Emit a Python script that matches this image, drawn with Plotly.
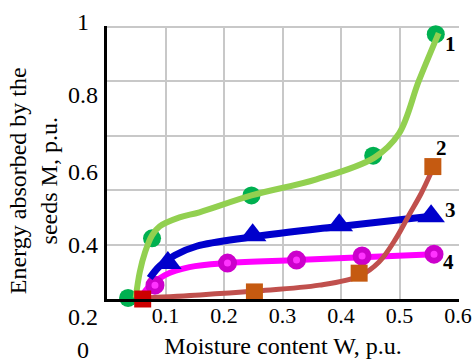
import plotly.graph_objects as go

# ---- data ----
# curve 1 (green)
w1_pts = [0.036, 0.077, 0.247, 0.455, 0.562]
m1_pts = [0.004, 0.223, 0.381, 0.527, 0.974]
w1_line = [0.049, 0.056, 0.065, 0.077, 0.090, 0.124, 0.158, 0.247, 0.358, 0.457, 0.499, 0.533, 0.567]
m1_line = [0.004, 0.099, 0.172, 0.234, 0.267, 0.300, 0.319, 0.381, 0.440, 0.520, 0.608, 0.802, 0.978]

# curve 2 (brown / orange)
w2_pts = [0.061, 0.252, 0.431, 0.557]
m2_pts = [0.000, 0.026, 0.095, 0.487]
w2_line = [0.065, 0.159, 0.252, 0.363, 0.431, 0.465, 0.494, 0.516, 0.537, 0.554]
m2_line = [0.004, 0.015, 0.029, 0.051, 0.084, 0.136, 0.223, 0.308, 0.388, 0.465]

# curve 3 (blue)
w3_pts = [0.104, 0.249, 0.397, 0.554]
m3_pts = [0.132, 0.234, 0.271, 0.304]
w3_line = [0.073, 0.090, 0.116, 0.153, 0.244, 0.397, 0.554]
m3_line = [0.077, 0.121, 0.161, 0.194, 0.227, 0.267, 0.304]

# curve 4 (magenta)
w4_pts = [0.082, 0.206, 0.324, 0.436, 0.559]
m4_pts = [0.051, 0.132, 0.143, 0.158, 0.165]
w4_line = [0.058, 0.073, 0.099, 0.141, 0.206, 0.324, 0.436, 0.559]
m4_line = [0.007, 0.048, 0.088, 0.117, 0.132, 0.143, 0.154, 0.165]

x_ticks = [0.1, 0.2, 0.3, 0.4, 0.5, 0.6]
x_tick_text = ["0.1", "0.2", "0.3", "0.4", "0.5", "0.6"]
y_grid = [0.2, 0.4, 0.6, 0.8, 1.0]
y_tick_text = ["1", "0.8", "0.6", "0.4", "0.2", "0"]
y_tick_pos = [1.015, 0.747, 0.465, 0.198, -0.066, -0.185]

curve_labels = ["1", "2", "3", "4"]
curve_label_w = [0.588, 0.571, 0.588, 0.584]
curve_label_m = [0.938, 0.556, 0.326, 0.136]

FONT = "Liberation Serif"

fig = go.Figure()

# curve 1: markers under the line
fig.add_trace(go.Scatter(x=w1_pts, y=m1_pts, mode="markers", cliponaxis=False,
                         marker=dict(symbol="circle", size=18, color="#00b050")))
fig.add_trace(go.Scatter(x=w1_line, y=m1_line, mode="lines",
                         line=dict(color="#92d050", width=6, shape="spline")))

# curve 4
fig.add_trace(go.Scatter(x=w4_line, y=m4_line, mode="lines",
                         line=dict(color="#ff00ff", width=6, shape="spline")))
fig.add_trace(go.Scatter(x=w4_pts, y=m4_pts, mode="markers", cliponaxis=False,
                         marker=dict(symbol="circle", size=13, color="#ff33ff",
                                     line=dict(color="#cc00cc", width=6))))

# curve 3
fig.add_trace(go.Scatter(x=w3_line, y=m3_line, mode="lines",
                         line=dict(color="#0000cc", width=7, shape="spline")))
fig.add_trace(go.Scatter(x=w3_pts, y=m3_pts, mode="markers", cliponaxis=False,
                         marker=dict(symbol="triangle-up", size=24, color="#0000cc")))

# curve 2
fig.add_trace(go.Scatter(x=w2_line, y=m2_line, mode="lines",
                         line=dict(color="#c0504d", width=5, shape="spline")))
fig.add_trace(go.Scatter(x=w2_pts, y=m2_pts, mode="markers", cliponaxis=False,
                         marker=dict(symbol="square", size=17,
                                     color=["#cc0000", "#c55a11", "#c55a11", "#c55a11"])))

annotations = []
for t, p in zip(y_tick_text, y_tick_pos):
    annotations.append(dict(text=t, x=-0.068, y=p, xref="paper", yref="paper",
                            xanchor="center", yanchor="middle", showarrow=False,
                            borderpad=0,
                            font=dict(family=FONT, size=24, color="black")))
for t, xx, yy in zip(curve_labels, curve_label_w, curve_label_m):
    annotations.append(dict(text="<b>" + t + "</b>", x=xx, y=yy, xref="x", yref="y",
                            xanchor="center", yanchor="middle", showarrow=False,
                            font=dict(family=FONT, size=21, color="black")))
annotations.append(dict(text="Energy absorbed by the<br>seeds M, p.u.", textangle=-90,
                        x=-0.21, y=0.432, xref="paper", yref="paper",
                        xanchor="center", yanchor="middle", showarrow=False,
                        font=dict(family=FONT, size=24, color="black")))

fig.update_layout(
    width=472, height=364,
    margin=dict(l=107, r=13, t=26, b=65),
    paper_bgcolor="white", plot_bgcolor="white",
    showlegend=False,
    font=dict(family=FONT, color="black"),
    annotations=annotations,
    xaxis=dict(range=[0, 0.6017], tickvals=x_ticks, ticktext=x_tick_text,
               showgrid=True, gridcolor="#c8c8c8", gridwidth=2,
               showline=True, linecolor="black", linewidth=3,
               zeroline=False, ticks="", automargin=False, ticklabelstandoff=-5,
               tickfont=dict(family=FONT, size=22, color="black"),
               title=dict(text="Moisture content W, p.u.", standoff=10,
                          font=dict(family=FONT, size=24, color="black"))),
    yaxis=dict(range=[0, 1.004], tickvals=y_grid, showticklabels=False,
               showgrid=True, gridcolor="#c8c8c8", gridwidth=2,
               showline=True, linecolor="black", linewidth=3,
               zeroline=False, ticks="", automargin=False),
)

fig.write_html("out.html")
